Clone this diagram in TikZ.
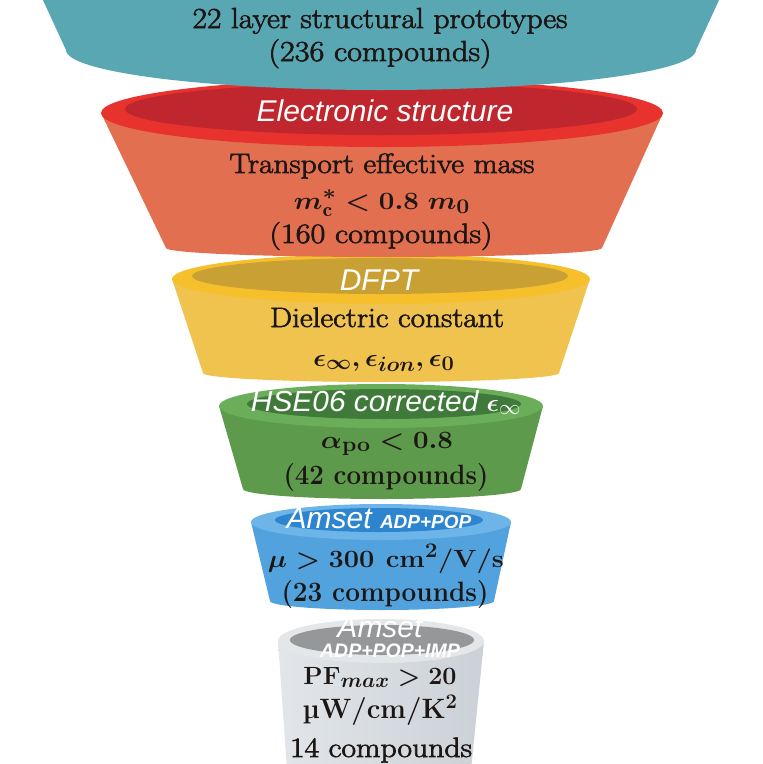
\documentclass[tikz,border=0pt]{standalone}
\usepackage{amsmath,bm,graphicx}
\usepackage{fontspec}
\newfontfamily\labelfont{Liberation Sans}
\newfontfamily\medfont{Latin Modern Roman}[FakeBold=2.2]
\newcommand\fitw[2]{\resizebox{#1}{\height}{#2}}
\definecolor{tealc}{RGB}{90,167,180}
\definecolor{redrim}{RGB}{232,50,46}
\definecolor{redin}{RGB}{192,38,45}
\definecolor{redbody}{RGB}{226,112,80}
\definecolor{yelrim}{RGB}{245,192,44}
\definecolor{yelin}{RGB}{201,160,51}
\definecolor{yelbody}{RGB}{239,195,78}
\definecolor{grnrim}{RGB}{107,174,90}
\definecolor{grnin}{RGB}{63,122,59}
\definecolor{grnbody}{RGB}{94,154,76}
\definecolor{blurim}{RGB}{109,180,232}
\definecolor{bluin}{RGB}{45,132,207}
\definecolor{blubody}{RGB}{82,162,221}
\definecolor{gryrim}{RGB}{228,231,234}
\definecolor{gryin}{RGB}{150,151,153}
\definecolor{gryL}{RGB}{226,230,234}
\definecolor{gryR}{RGB}{204,209,215}
\definecolor{ink}{RGB}{28,22,20}
\tikzset{
  lbl/.style={text=white, font=\labelfont\itshape\fontsize{30}{34}\selectfont, inner sep=0, anchor=base},
  lblsmall/.style={text=white, font=\labelfont\bfseries\itshape\fontsize{19.5}{22}\selectfont, inner sep=0, anchor=base},
  txt/.style={text=ink, font=\medfont\fontsize{28}{33}\selectfont, inner sep=0, anchor=base},
  txtb/.style={text=ink, font=\bfseries\boldmath\fontsize{28}{33}\selectfont, inner sep=0, anchor=base},
}
\begin{document}
\begin{tikzpicture}[x=1pt,y=-1pt]
\useasboundingbox (0,0) rectangle (763,764);
\clip (0,0) rectangle (763,764);
% tier 6 gray
\shade[left color=gryL, right color=gryR] (278,641) -- (287,770) -- (471,770) -- (484,641) -- cycle;
\fill[gryrim] (381,641) ellipse[x radius=103pt, y radius=22pt];
\fill[gryin] (382,640) ellipse[x radius=92pt, y radius=15pt];
% tier 5 blue
\fill[blubody] (251,522) -- (270,601) arc[start angle=180, end angle=360, x radius=112pt, y radius=9pt] -- (511,522) -- cycle;
\fill[blurim] (381,522) ellipse[x radius=130pt, y radius=18pt];
\fill[bluin] (379,520) ellipse[x radius=104pt, y radius=12pt];
% tier 4 green
\fill[grnbody] (219,406) -- (243,489) arc[start angle=180, end angle=360, x radius=139pt, y radius=10pt] -- (543,406) -- cycle;
\fill[grnrim] (381,406) ellipse[x radius=162pt, y radius=22pt];
\fill[grnin] (384,404) ellipse[x radius=137pt, y radius=15pt];
% tier 3 yellow
\fill[yelbody] (172,279) -- (203,373) arc[start angle=180, end angle=360, x radius=178pt, y radius=9pt] -- (590,279) -- cycle;
\fill[yelrim] (381,279) ellipse[x radius=209pt, y radius=25pt];
\fill[yelin] (380,276) ellipse[x radius=188pt, y radius=18pt];
% tier 2 red
\fill[redbody] (101,113) -- (166,248) arc[start angle=180, end angle=360, x radius=218pt, y radius=9pt] -- (663,113) -- cycle;
\fill[redrim] (382,113) ellipse[x radius=281pt, y radius=34pt];
\fill[redin] (381,109) ellipse[x radius=256pt, y radius=26pt];
% tier 1 teal
\fill[tealc] (42,-2) -- (66,50) arc[start angle=180, end angle=360, x radius=315pt, y radius=40pt] -- (720,-2) -- cycle;
% texts
\node[txt, font=\medfont\fontsize{29}{34}\selectfont] (t1a) at (380,28) {\fitw{375pt}{22 layer structural prototypes}};
\node[txt, font=\medfont\fontsize{29}{34}\selectfont] (t1b) at (380,61) {\fitw{223pt}{(236 compounds)}};
\node[lbl] (l2) at (385,121) {Electronic structure};
\node[txt] (t2a) at (382,173) {\fitw{305pt}{Transport effective mass}};
\node[txtb] (t2b) at (382,209) {\fitw{176pt}{$m_{\mathrm{c}}^{*} < 0.8\;m_0$}};
\node[txt] (t2c) at (381,243) {\fitw{223pt}{(160 compounds)}};
\node[lbl] (l3) at (379,290) {DFPT};
\node[txt] (t3a) at (387,327) {\fitw{234pt}{Dielectric constant}};
\node[txtb] (t3b) at (384,366) {\fitw{141pt}{$\epsilon_\infty, \epsilon_{ion}, \epsilon_0$}};
\node[lbl, font=\labelfont\itshape\fontsize{29}{34}\selectfont] (l4) at (386,411) {\fitw{270pt}{HSE06 corrected $\boldsymbol{\epsilon}_\infty$}};
\node[txtb] (t4a) at (387,448) {\fitw{132pt}{$\alpha_{\mathbf{po}} < 0.8$}};
\node[txtb] (t4b) at (386,484) {\fitw{205pt}{(42 compounds)}};
\node[lbl] (l5) at (379,528) {Amset {\bfseries\fontsize{19}{22}\selectfont ADP+POP}};
\node[txtb] (t5a) at (386,567) {\fitw{236pt}{$\mu > 300~\mathbf{cm^2/V/s}$}};
\node[txtb] (t5b) at (385,601) {\fitw{207pt}{(23 compounds)}};
\node[lbl] (l6a) at (380,637) {Amset};
\node[lblsmall] (l6b) at (390,657) {ADP+POP+IMP};
\node[txtb] (t6a) at (380,684) {\fitw{153pt}{$\mathbf{PF}_{max} > 20$}};
\node[txtb] (t6b) at (380,718) {\fitw{155pt}{µW/cm/K$^{\mathbf{2}}$}};
\node[txt] (t6c) at (381,757) {\fitw{182pt}{14 compounds}};
\end{tikzpicture}
\end{document}
